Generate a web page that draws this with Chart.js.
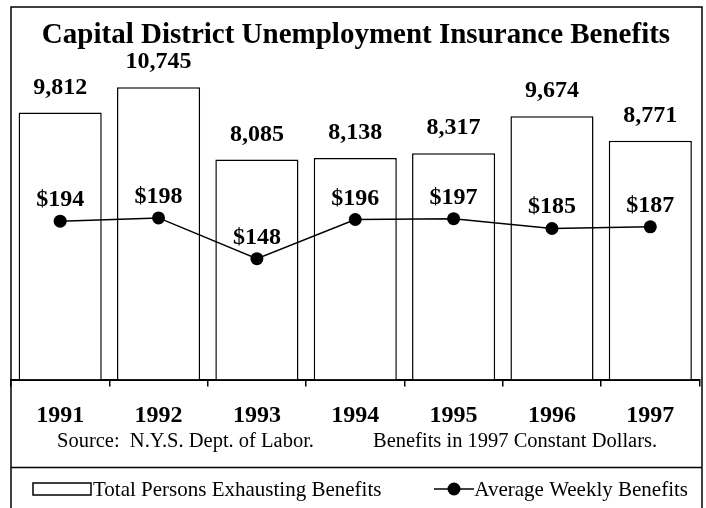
<!DOCTYPE html>
<html>
<head>
<meta charset="utf-8">
<script src="https://cdn.jsdelivr.net/npm/chart.js@4.4.0/dist/chart.umd.min.js"></script>
<style>
  html, body { margin: 0; padding: 0; background: #fff; }
</style>
</head>
<body>
<canvas id="myChart" width="706" height="508"></canvas>
<script>
// data
const years = ["1991", "1992", "1993", "1994", "1995", "1996", "1997"];
const personsExhausting = [9812, 10745, 8085, 8138, 8317, 9674, 8771];
const weeklyBenefits = [194, 198, 148, 196, 197, 185, 187];

const titleText = "Capital District Unemployment Insurance Benefits";
const sourceLeft = "Source:  N.Y.S. Dept. of Labor.";
const sourceRight = "Benefits in 1997 Constant Dollars.";
const legendBars = "Total Persons Exhausting Benefits";
const legendLine = "Average Weekly Benefits";

const SERIF = '"Liberation Serif", "Times New Roman", serif';

// frame, title, value labels, source line and legend
const framePlugin = {
  id: "framePlugin",
  beforeDraw(chart) {
    const c = chart.ctx;
    c.save();
    c.fillStyle = "#fff";
    c.fillRect(0, 0, chart.width, chart.height);
    c.strokeStyle = "#000";
    c.lineWidth = 1.5;
    c.strokeRect(11, 7, 691, 600);
    c.restore();
  },
  afterDatasetsDraw(chart) {
    const c = chart.ctx;
    c.save();
    c.fillStyle = "#000";
    c.textAlign = "center";
    c.textBaseline = "alphabetic";
    c.font = "bold 24px " + SERIF;

    // bar values
    chart.getDatasetMeta(1).data.forEach((bar, i) => {
      c.fillText(personsExhausting[i].toLocaleString("en-US"), bar.x, bar.y - 19);
    });
    // line values
    chart.getDatasetMeta(0).data.forEach((pt, i) => {
      c.fillText("$" + weeklyBenefits[i], pt.x, pt.y - 15);
    });
    c.restore();
  },
  afterDraw(chart) {
    const c = chart.ctx;
    c.save();
    c.fillStyle = "#000";
    c.strokeStyle = "#000";

    // title
    c.textAlign = "center";
    c.textBaseline = "alphabetic";
    c.font = "bold 29px " + SERIF;
    c.fillText(titleText, 356, 43);

    // source line
    c.textAlign = "left";
    c.font = "20.5px " + SERIF;
    c.fillText(sourceLeft, 57, 447);
    c.fillText(sourceRight, 373, 447);

    // divider above legend
    c.lineWidth = 1.5;
    c.beginPath();
    c.moveTo(11, 467.5);
    c.lineTo(702, 467.5);
    c.stroke();

    // legend: bars
    c.lineWidth = 1.5;
    c.strokeRect(33, 483, 58, 12);
    c.font = "21px " + SERIF;
    c.fillText(legendBars, 93, 496);

    // legend: line
    c.beginPath();
    c.moveTo(434, 489);
    c.lineTo(474, 489);
    c.stroke();
    c.beginPath();
    c.arc(454, 489, 6.5, 0, Math.PI * 2);
    c.fill();
    c.textAlign = "right";
    c.fillText(legendLine, 688, 496);

    c.restore();
  },
};

const ctx = document.getElementById("myChart").getContext("2d");

const myChart = new Chart(ctx, {
  type: "bar",
  data: {
    labels: years,
    datasets: [
      {
        type: "line",
        label: legendLine,
        data: weeklyBenefits,
        yAxisID: "y2",
        borderColor: "#000",
        borderWidth: 1.5,
        pointRadius: 6.5,
        pointBackgroundColor: "#000",
        pointBorderColor: "#000",
        pointBorderWidth: 0,
        tension: 0,
        fill: false,
        order: 0,
      },
      {
        type: "bar",
        label: legendBars,
        data: personsExhausting,
        yAxisID: "y",
        backgroundColor: "#fff",
        borderColor: "#000",
        borderWidth: 1.5,
        borderSkipped: "start",
        barPercentage: 0.845,
        categoryPercentage: 1,
        order: 1,
      },
    ],
  },
  options: {
    responsive: false,
    animation: false,
    layout: {
      padding: { left: 11, right: 4, top: 53, bottom: 0 },
    },
    plugins: {
      legend: { display: false },
      tooltip: { enabled: false },
      title: { display: false },
    },
    scales: {
      x: {
        grid: {
          offset: true,
          drawOnChartArea: false,
          drawTicks: true,
          tickLength: 7,
          color: "#000",
          lineWidth: 1.5,
        },
        border: { display: true, color: "#000", width: 2 },
        ticks: {
          color: "#000",
          padding: 15,
          font: { family: SERIF, size: 24, weight: "bold" },
        },
        afterFit(scale) {
          scale.height = 128.5;
        },
      },
      y: { display: false, min: 0, max: 12000 },
      y2: { display: false, min: 0, max: 400, position: "right" },
    },
  },
  plugins: [framePlugin],
});
</script>
</body>
</html>
